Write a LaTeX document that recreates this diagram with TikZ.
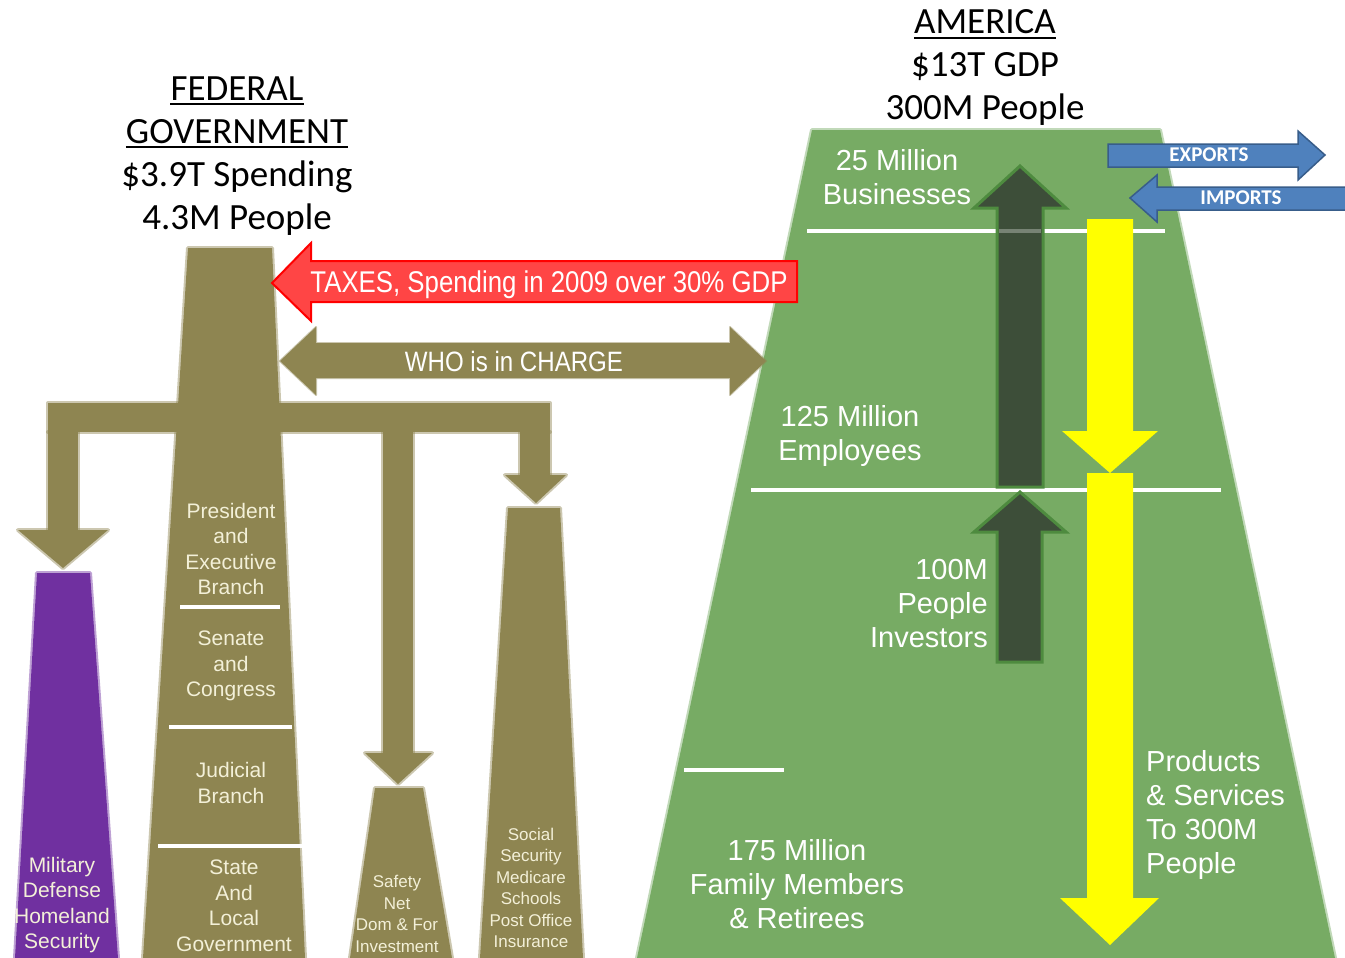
\documentclass[tikz,border=0pt]{standalone}
\usepackage{fontspec}
\setmainfont{Liberation Sans}
\newfontfamily\calfont{Carlito}
\newfontfamily\narrowfont[FakeStretch=0.86]{Liberation Sans}
\definecolor{govolive}{HTML}{8E8551}
\definecolor{govpurple}{HTML}{7030A0}
\definecolor{usgreen}{HTML}{77AB64}
\definecolor{cream}{HTML}{F3F0D8}
\definecolor{darkarrow}{HTML}{3D4E39}
\definecolor{darkedge}{HTML}{4E8B3F}
\definecolor{bluefill}{HTML}{4F81BD}
\definecolor{blueedge}{HTML}{385D8A}
\definecolor{redfill}{HTML}{FF4545}
\definecolor{brightyellow}{HTML}{FFFF00}
\tikzset{
  softolive/.style={fill=govolive, draw=govolive, draw opacity=0.45, line width=4pt, line join=round},
  softpurple/.style={fill=govpurple, draw=govpurple, draw opacity=0.45, line width=4pt, line join=round},
  softgreen/.style={fill=usgreen, draw=usgreen, draw opacity=0.45, line width=4pt, line join=round},
  title/.style={font=\calfont\fontsize{37}{43}\selectfont, inner sep=0pt, text=black},
  towertext/.style={text=cream, font=\fontsize{21}{25.5}\selectfont, align=center, inner sep=0pt},
  smalltower/.style={text=cream, font=\fontsize{17}{21.5}\selectfont, align=center, inner sep=0pt},
  greentext/.style={text=white, font=\fontsize{29}{34}\selectfont, inner sep=0pt},
  divider/.style={white, line width=4pt},
  darkup/.style={fill=darkarrow, draw=darkedge, line width=3pt, line join=miter},
  yellowdown/.style={fill=brightyellow},
  bluearrow/.style={fill=bluefill, draw=blueedge, line width=1.5pt},
  bluelabel/.style={text=white, font=\calfont\bfseries\fontsize{21}{23}\selectfont, inner sep=0pt},
}
\begin{document}
\begin{tikzpicture}[x=1pt,y=-1pt]
\useasboundingbox (0,0) rectangle (1345,958);
\fill[white] (0,0) rectangle (1345,958);

% ---------- America trapezoid ----------
\path[softgreen] (812,130) -- (1160,130) -- (1335,958) -- (637,958) -- cycle;
\draw[divider] (807,231) -- (1165,231);
\draw[divider] (751,490) -- (1221,490);
\draw[divider] (684,770) -- (784,770);

% dark up arrows
\path[darkup] (1020,166) -- (1066,208) -- (1043,208) -- (1043,487) -- (997,487) -- (997,208) -- (974,208) -- cycle;
\path[darkup] (1020,492) -- (1066,532) -- (1042,532) -- (1042,662) -- (997,662) -- (997,532) -- (974,532) -- cycle;
\draw[white, opacity=0.3, line width=4pt] (999,231) -- (1041,231);
% yellow down arrows
\path[yellowdown] (1087,219) -- (1133,219) -- (1133,431) -- (1158,431) -- (1110,473) -- (1062,431) -- (1087,431) -- cycle;
\path[yellowdown] (1087,473) -- (1133,473) -- (1133,898) -- (1159,898) -- (1110,945) -- (1060,898) -- (1087,898) -- cycle;

% exports / imports
\path[bluearrow] (1108,144) -- (1298,144) -- (1298,131) -- (1325,155) -- (1298,180) -- (1298,167) -- (1108,167) -- cycle;
\path[bluearrow] (1130,198) -- (1157,175) -- (1157,187) -- (1347,187) -- (1347,210) -- (1157,210) -- (1157,222) -- cycle;
\node[bluelabel] (exp) at (1209,155) {EXPORTS};
\node[bluelabel] (imp) at (1241,198) {IMPORTS};

% green texts
\node[greentext, align=center] (biz) at (897,177) {25 Million\\Businesses};
\node[greentext, align=center] (emp) at (850,436) {125 Million\\Employees};
\node[greentext, align=right, anchor=east] (inv) at (988,604) {100M\\People\\Investors};
\node[greentext, align=center] (fam) at (797,884) {175 Million\\Family Members\\\& Retirees};
\node[greentext, align=left, anchor=west] (prod) at (1146,815) {Products\\\& Services\\To 300M\\People};

% ---------- Federal structure ----------
\path[softolive] (188,248) -- (272,248) -- (305,958) -- (143,958) -- cycle;
\path[softolive] (48,403) rectangle (550,432);
\path[softolive] (48,432) rectangle (78,530);
\path[softolive] (18,530) -- (108,530) -- (63,568) -- cycle;
\path[softolive] (383,432) rectangle (413,753);
\path[softolive] (365,753) -- (432,753) -- (398,784) -- cycle;
\path[softolive] (520,432) rectangle (550,475);
\path[softolive] (505,475) -- (566,475) -- (536,503) -- cycle;
\path[softolive] (375,788) -- (423,788) -- (452,958) -- (350,958) -- cycle;
\path[softolive] (508,508) -- (560,508) -- (583,958) -- (480,958) -- cycle;
\path[softpurple] (37,573) -- (90,573) -- (118,958) -- (15,958) -- cycle;

% WHO arrow
\path[softolive, line width=2pt] (280,361) -- (316,327) -- (316,343) -- (730,343) -- (730,327) -- (766,361) -- (730,395) -- (730,378) -- (316,378) -- (316,395) -- cycle;
\node[text=white, font=\narrowfont\fontsize{28}{30}\selectfont, inner sep=0pt] (who) at (514,361) {WHO is in CHARGE};

% red TAXES arrow
\path[fill=redfill, draw=red, line width=2pt, line join=miter] (272,283) -- (311,243) -- (311,261) -- (797,261) -- (797,302) -- (311,302) -- (311,321) -- cycle;
\node[text=white, font=\narrowfont\fontsize{30}{32}\selectfont, inner sep=0pt] (tax) at (549,285) {TAXES, Spending in 2009 over 30\% GDP};

% dividers in the main tower
\draw[divider] (180,607) -- (280,607);
\draw[divider] (169,727) -- (292,727);
\draw[divider] (158,846) -- (303,846);

% tower texts
\node[towertext] (pres) at (231,549) {President\\and\\Executive\\Branch};
\node[towertext] (sen) at (231,666) {Senate\\and\\Congress};
\node[towertext] (jud) at (231,783) {Judicial\\Branch};
\node[towertext] (state) at (234,906) {State\\And\\Local\\Government};
\node[towertext] (mil) at (62,905) {Military\\Defense\\Homeland\\Security};
\node[smalltower] (safe) at (397,914) {Safety\\Net\\Dom \& For\\Investment};
\node[smalltower] (soc) at (531,888) {Social\\Security\\Medicare\\Schools\\Post Office\\Insurance};

% ---------- titles ----------
\node[title, anchor=base] (fed1) at (237,100) {FEDERAL};
\draw[line width=2pt] ([yshift=-4pt]fed1.base west) -- ([yshift=-4pt]fed1.base east);
\node[title, anchor=base] (fed2) at (237,143) {GOVERNMENT};
\draw[line width=2pt] ([yshift=-4pt]fed2.base west) -- ([yshift=-4pt]fed2.base east);
\node[title, anchor=base] (fed3) at (237,186) {\$3.9T Spending};
\node[title, anchor=base] (fed4) at (237,229) {4.3M People};

\node[title, anchor=base] (am1) at (985,34) {AMERICA};
\draw[line width=2pt] ([yshift=-4pt]am1.base west) -- ([yshift=-4pt]am1.base east);
\node[title, anchor=base] (am2) at (985,77) {\$13T GDP};
\node[title, anchor=base] (am3) at (985,120) {300M People};
\end{tikzpicture}
\end{document}
